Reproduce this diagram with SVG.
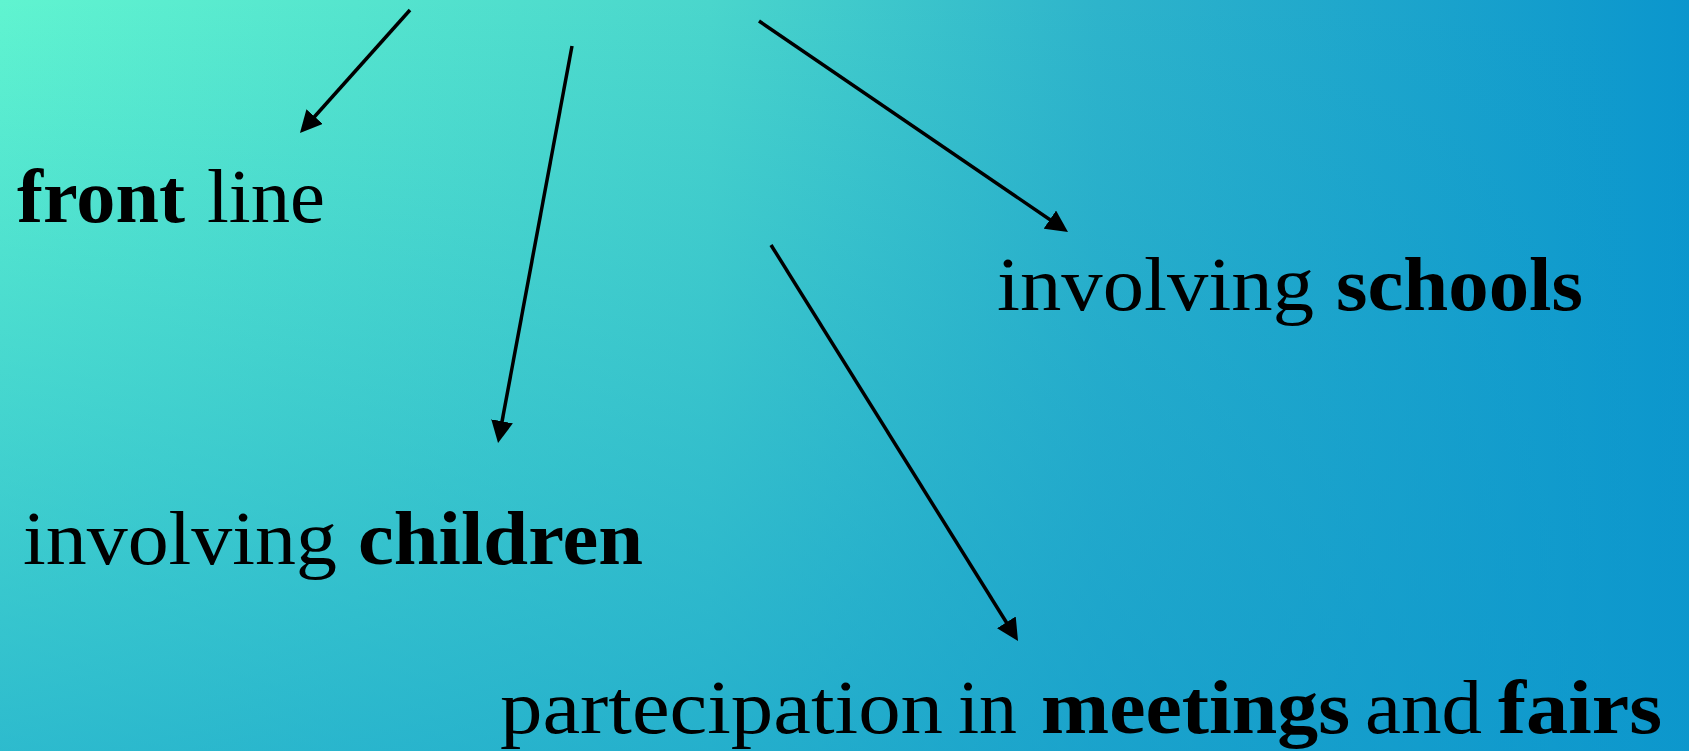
<svg xmlns="http://www.w3.org/2000/svg" width="1689" height="751" viewBox="0 0 1689 751">
<defs>
<linearGradient id="bgH" x1="0" y1="0" x2="1" y2="0">
<stop offset="0" stop-color="#60F4D0"/>
<stop offset="0.42" stop-color="#4AD6CC"/>
<stop offset="0.65" stop-color="#2EB4CB"/>
<stop offset="1" stop-color="#0B96CD"/>
</linearGradient>
<linearGradient id="bgV" x1="0" y1="0" x2="0" y2="1">
<stop offset="0" stop-color="#0E98CC" stop-opacity="0"/>
<stop offset="1" stop-color="#0E98CC" stop-opacity="0.62"/>
</linearGradient>
<marker id="ah" markerUnits="userSpaceOnUse" markerWidth="22" markerHeight="22" refX="14" refY="11" orient="auto" viewBox="0 0 22 22">
<path d="M0,0 L22,11 L0,22 z" fill="#000"/>
</marker>
<style>
.t{font-family:"Liberation Serif","Times New Roman",serif;font-size:76px;fill:#000}
.b{font-weight:bold}
.c{stroke:#000;stroke-width:3.5;fill:none;marker-end:url(#ah)}
</style>
</defs>
<rect width="1689" height="751" fill="url(#bgH)"/>
<rect width="1689" height="751" fill="url(#bgV)"/>
<g id="connectors">
<line class="c" x1="410" y1="10" x2="305.3" y2="127.0"/>
<line class="c" x1="572" y1="46" x2="499.5" y2="435.1"/>
<line class="c" x1="759" y1="21" x2="1061.4" y2="227.5"/>
<line class="c" x1="771" y1="245" x2="1013.8" y2="634.2"/>
</g>
<g id="node-front-line">
<text class="t b" x="17" y="222" textLength="168" lengthAdjust="spacingAndGlyphs">front</text>
<text class="t" x="207" y="222" textLength="118" lengthAdjust="spacingAndGlyphs">line</text>
</g>
<g id="node-involving-schools">
<text class="t" x="997" y="310" textLength="317" lengthAdjust="spacingAndGlyphs">involving</text>
<text class="t b" x="1336" y="310" textLength="247" lengthAdjust="spacingAndGlyphs">schools</text>
</g>
<g id="node-involving-children">
<text class="t" x="23" y="564" textLength="314" lengthAdjust="spacingAndGlyphs">involving</text>
<text class="t b" x="358" y="564" textLength="285" lengthAdjust="spacingAndGlyphs">children</text>
</g>
<g id="node-partecipation">
<text class="t" x="500" y="733" textLength="443" lengthAdjust="spacingAndGlyphs">partecipation</text>
<text class="t" x="958" y="733" textLength="59" lengthAdjust="spacingAndGlyphs">in</text>
<text class="t b" x="1041" y="733" textLength="309" lengthAdjust="spacingAndGlyphs">meetings</text>
<text class="t" x="1365" y="733" textLength="117" lengthAdjust="spacingAndGlyphs">and</text>
<text class="t b" x="1498" y="733" textLength="164" lengthAdjust="spacingAndGlyphs">fairs</text>
</g>
</svg>
